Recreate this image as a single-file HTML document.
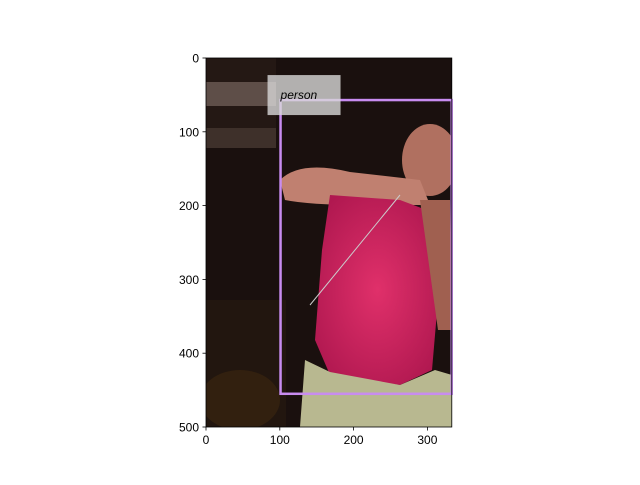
<!DOCTYPE html>
<html><head><meta charset="utf-8"><style>
body{margin:0;background:#fff;}
svg{font-family:"Liberation Sans","DejaVu Sans",sans-serif;}
</style></head><body>
<svg width="640" height="480" viewBox="0 0 640 480">
<defs>
<clipPath id="imgclip"><rect x="206" y="58" width="245.8" height="369"/></clipPath>
<radialGradient id="shirt" cx="0.5" cy="0.5" r="0.6"><stop offset="0" stop-color="#e0306a"/><stop offset="1" stop-color="#b01850"/></radialGradient>
</defs>
<g id="photo" clip-path="url(#imgclip)">
<rect x="206" y="58" width="246" height="369" fill="#1a100e"/>
<rect x="206" y="58" width="70" height="80" fill="#241814"/>
<rect x="206" y="82" width="70" height="24" fill="#5e4e48"/>
<rect x="206" y="128" width="70" height="20" fill="#3e302a"/>
<rect x="206" y="300" width="80" height="127" fill="#22160f"/>
<ellipse cx="240" cy="400" rx="40" ry="30" fill="#32200f"/>
<ellipse cx="430" cy="160" rx="28" ry="36" fill="#b07060"/>
<path d="M280 180 Q300 160 350 172 L420 180 L430 205 L360 205 Q310 205 285 200 Z" fill="#c08070"/>
<path d="M330 195 L400 200 L440 215 L438 300 L432 370 L400 385 L330 375 L315 340 L322 250 Z" fill="url(#shirt)"/>
<path d="M420 200 L450 200 L452 330 L438 330 Z" fill="#a06050"/>
<path d="M305 360 L330 372 L400 385 L435 370 L452 375 L452 427 L300 427 Z" fill="#b8b890"/>
<line x1="310" y1="305" x2="400" y2="195" stroke="#ccc" stroke-width="1"/>
</g>
<g id="box"></g>
<rect x="206" y="58" width="245.8" height="369" fill="none" stroke="#000" stroke-width="0.8"/>
<g id="xt"></g>
<g id="yt"></g>
</svg>
<script>
const xTicks=[0,100,200,300];
const yTicks=[0,100,200,300,400,500];
const boxes=[[101,57,333,455]];
const labels=["person"];
const imgW=333, imgH=500;
const X0=206,Y0=58,S=369/500;
const sx=v=>X0+v*S, sy=v=>Y0+v*S;
const NS="http://www.w3.org/2000/svg";
function mk(t,a,p){const e=document.createElementNS(NS,t);for(const k in a)e.setAttribute(k,a[k]);p.appendChild(e);return e;}
const xt=document.getElementById('xt'),yt=document.getElementById('yt'),bx=document.getElementById('box');
xTicks.forEach(v=>{const x=sx(v);
const l=mk('line',{x1:x,x2:x,y1:427,y2:430.5,stroke:'#000','stroke-width':0.8},xt);


const t=mk('text',{x:x,y:444,'text-anchor':'middle','font-size':12},xt);t.textContent=v;

});
yTicks.forEach(v=>{const y=sy(v);
const l=mk('line',{x1:202.5,x2:206,y1:y,y2:y,stroke:'#000','stroke-width':0.8},yt);


const t=mk('text',{x:199,y:y+4.5,'text-anchor':'end','font-size':12},yt);t.textContent=v;

});
boxes.forEach((b,i)=>{
const r=mk('rect',{x:sx(b[0]),y:sy(b[1]),width:sx(Math.min(b[2],imgW))-sx(b[0]),height:sy(b[3])-sy(b[1]),fill:'none',stroke:'#c88cf0','stroke-width':2.5},bx);


const bg=mk('rect',{x:sx(b[0])-13,y:sy(b[1])-25,width:73,height:40,fill:'#d8d8d8','fill-opacity':0.8},bx);


const t=mk('text',{x:sx(b[0]),y:sy(b[1])-1,'font-size':12,'font-style':'italic'},bx);t.textContent=labels[i];

});
</script>
</body></html>
